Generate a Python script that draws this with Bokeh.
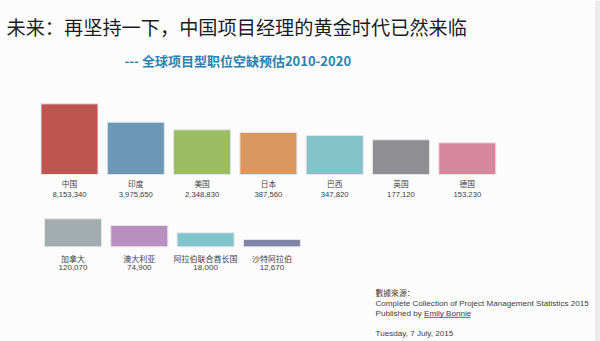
from bokeh.plotting import figure
from bokeh.models import Range1d, ColumnDataSource
from bokeh.core.properties import value
from bokeh.embed import file_html
from bokeh.resources import INLINE

# ---- data ----
title_text = "未来：再坚持一下，中国项目经理的黄金时代已然来临"
subtitle_text = "--- 全球项目型职位空缺预估2010-2020"

countries_row1 = ["中国", "印度", "美国", "日本", "巴西", "英国", "德国"]
vacancies_row1 = [8153340, 3975650, 2348830, 387560, 347820, 177120, 153230]
# drawn bar sizes as they appear in the infographic (not proportional to values)
bar_size_row1 = [70.7, 52.3, 44.7, 42.0, 39.0, 34.7, 31.7]

countries_row2 = ["加拿大", "澳大利亚", "阿拉伯联合酋长国", "沙特阿拉伯"]
vacancies_row2 = [120070, 74900, 18000, 12670]
bar_size_row2 = [28.0, 21.3, 14.0, 7.3]

source_head = "數據來源："
source_line1 = "Complete  Collection of Project Management  Statistics 2015"
source_line2a = "Published by "
source_line2b = "Emily Bonnie"
date_text = "Tuesday, 7 July, 2015"

# ---- styles ----
colors_row1 = ["#bf5551", "#6b98b6", "#9bbd63", "#d9965e", "#85c3cb", "#8e8e93", "#d6869f"]
colors_row2 = ["#a3acaf", "#b890c0", "#80c4cc", "#8082a6"]
CJK = "Noto Sans CJK SC"
LAT = "Liberation Sans"

W, H = 600, 341
p = figure(width=W, height=H, output_backend="svg", toolbar_location=None,
           x_range=Range1d(0, W), y_range=Range1d(H, 0),
           min_border=0, background_fill_color="#fcfcfc", border_fill_color="#fcfcfc")
p.axis.visible = False
p.grid.visible = False
p.outline_line_color = None

# grey strip on right edge
p.quad(left=[594.5], right=[600], top=[0], bottom=[H], fill_color="#ebebeb", line_color=None)

# title / subtitle
p.text(x=[6], y=[26], text=[title_text], text_font=value(CJK), text_font_size="19.2px",
       text_color="#1c1c1c", text_baseline="middle", text_align="left")
p.text(x=[124], y=[60], text=[subtitle_text], text_font=value(CJK), text_font_size="13px",
       text_font_style="bold", text_color="#2b82ae", text_baseline="middle", text_align="left")

def fmt(v):
    return f"{v:,}"

def draw_row(names, vals, sizes, colors, x0, step, base, name_y, val_y, fs):
    xs = [x0 + step * i for i in range(len(names))]
    src = ColumnDataSource(dict(
        x=xs, top=[base - s for s in sizes], bottom=[base] * len(sizes), color=colors,
        name=names, val=[fmt(v) for v in vals]))
    p.vbar(x="x", top="top", bottom="bottom", width=57, fill_color="color",
           line_color="#e6e6e6", line_width=1, source=src)
    p.text(x="x", y=name_y, text="name", text_font=value(CJK), text_font_size=fs,
           text_color="#404040", text_align="center", text_baseline="middle", source=src)
    p.text(x="x", y=val_y, text="val", text_font=value(LAT), text_font_size=fs,
           text_color="#404040", text_align="center", text_baseline="middle", source=src)

draw_row(countries_row1, vacancies_row1, bar_size_row1, colors_row1,
         69.0, 66.3, 174.0, 182.7, 194.3, "7.7px")
draw_row(countries_row2, vacancies_row2, bar_size_row2, colors_row2,
         72.5, 66.3, 246.3, 257.7, 266.7, "8px")

# source block
FS = "8.1px"
p.text(x=[375], y=[291.5], text=[source_head], text_font=value(CJK), text_font_size="7.8px",
       text_color="#404040", text_baseline="middle", text_align="left")
p.text(x=[375], y=[302.7], text=[source_line1], text_font=value(LAT), text_font_size=FS,
       text_color="#404040", text_baseline="middle", text_align="left")
p.text(x=[375], y=[312.7], text=[source_line2a], text_font=value(LAT), text_font_size=FS,
       text_color="#404040", text_baseline="middle", text_align="left")
p.text(x=[423.5], y=[312.7], text=[source_line2b], text_font=value(LAT), text_font_size=FS,
       text_color="#3a3a6a", text_baseline="middle", text_align="left")
p.segment(x0=[423.5], y0=[316.8], x1=[470], y1=[316.8], line_color="#3a3a6a", line_width=0.8)
p.text(x=[375], y=[332.7], text=[date_text], text_font=value(LAT), text_font_size=FS,
       text_color="#404040", text_baseline="middle", text_align="left")

open("out.html", "w").write(file_html(p, INLINE))
